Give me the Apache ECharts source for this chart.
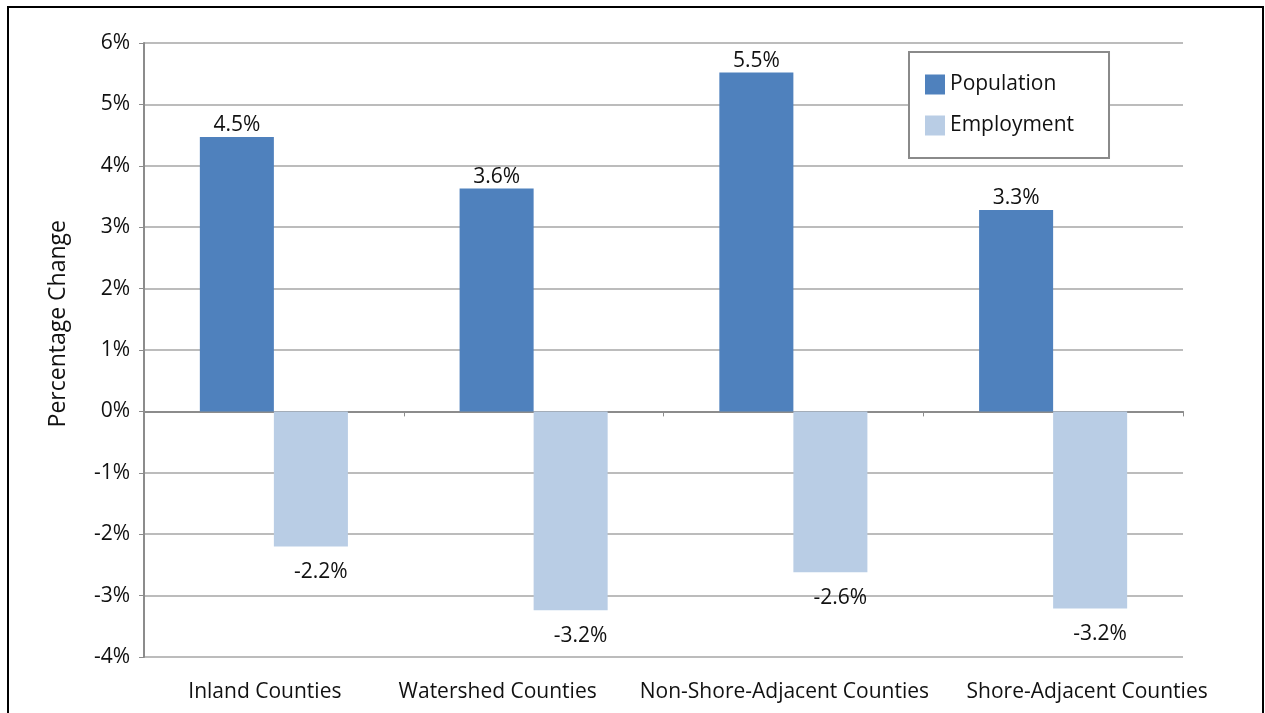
<!DOCTYPE html>
<html>
<head>
<meta charset="utf-8">
<script src="https://cdn.jsdelivr.net/npm/echarts@6/dist/echarts.min.js"></script>
<style>
  html, body { margin: 0; padding: 0; width: 1265px; height: 713px; overflow: hidden; background: #fff; }
  #chart { position: absolute; left: 0; top: 0; width: 1265px; height: 713px; }
  #frame { position: absolute; left: 7px; top: 6px; width: 1253px; height: 720px; border: 2px solid #000; pointer-events: none; }
</style>
</head>
<body>
<div id="chart"></div>
<div id="frame"></div>
<script>
const categories = ['Inland Counties', 'Watershed Counties', 'Non-Shore-Adjacent Counties', 'Shore-Adjacent Counties'];
const population = [4.47, 3.63, 5.52, 3.28];
const employment = [-2.2, -3.24, -2.62, -3.21];
const populationLabels = ['4.5%', '3.6%', '5.5%', '3.3%'];
const employmentLabels = ['-2.2%', '-3.2%', '-2.6%', '-3.2%'];

const font = 'Open Sans';
// the category labels in the original sit a bit off their slot centres
const labelStyle = { fontSize: 21, color: '#111', fontFamily: font };
const catRich = {
    c0: { ...labelStyle, padding: [0, 18, 0, 0] },
    c1: { ...labelStyle, padding: [0, 72, 0, 0] },
    c2: { ...labelStyle, padding: [0, 18, 0, 0] },
    c3: { ...labelStyle, padding: [0, 0, 0, 68] }
};

let myChart = echarts.init(document.getElementById('chart'));
myChart.setOption({
    animation: false,
    textStyle: { fontFamily: font },
    grid: { left: 144, right: 82, top: 43, bottom: 56 },
    legend: {
        left: 909,
        top: 52,
        orient: 'vertical',
        data: ['Population', 'Employment'],
        icon: 'rect',
        itemWidth: 20,
        itemHeight: 20,
        itemGap: 20,
        padding: [22, 35, 22, 16],
        borderColor: '#8a8a8a',
        borderWidth: 2,
        backgroundColor: '#fff',
        textStyle: { fontSize: 21, color: '#111', fontFamily: font }
    },
    xAxis: [{
        type: 'category',
        data: categories,
        axisLine: { show: false, onZero: false },
        axisTick: { show: false },
        axisLabel: {
            fontSize: 21,
            color: '#111',
            margin: 25,
            interval: 0,
            formatter: (v, i) => '{c' + i + '|' + v + '}',
            rich: catRich
        }
    }, {
        type: 'category',
        data: categories,
        position: 'top',
        axisLine: { onZero: true, lineStyle: { color: '#8c8c8c', width: 2 } },
        axisTick: { show: true, inside: true, length: 5, lineStyle: { color: '#8c8c8c' } },
        axisLabel: { show: false }
    }],
    yAxis: {
        type: 'value',
        min: -4,
        max: 6,
        interval: 1,
        axisLine: { show: true, lineStyle: { color: '#8c8c8c', width: 2 } },
        axisTick: { show: true, length: 5, lineStyle: { color: '#8c8c8c' } },
        splitLine: { lineStyle: { color: '#a6a6a6', width: 1.5 } },
        axisLabel: {
            fontSize: 21,
            color: '#111',
            margin: 14,
            formatter: v => v + '%'
        }
    },
    graphic: [{
        type: 'text',
        left: 47,
        top: 220,
        rotation: Math.PI / 2,
        style: {
            text: 'Percentage Change',
            fontSize: 23,
            fontFamily: font,
            fill: '#111'
        }
    }],
    series: [{
        name: 'Population',
        type: 'bar',
        data: population,
        barWidth: '28.5%',
        barGap: '0%',
        itemStyle: { color: '#4f81bd' },
        label: {
            show: true,
            position: 'top',
            distance: 1,
            fontSize: 21,
            color: '#111',
            formatter: p => populationLabels[p.dataIndex]
        }
    }, {
        name: 'Employment',
        type: 'bar',
        data: employment,
        barWidth: '28.5%',
        itemStyle: { color: '#b9cde5' },
        label: {
            show: true,
            position: 'bottom',
            distance: 15,
            offset: [10, 0],
            fontSize: 21,
            color: '#111',
            formatter: p => employmentLabels[p.dataIndex]
        }
    }]
});
</script>
</body>
</html>
